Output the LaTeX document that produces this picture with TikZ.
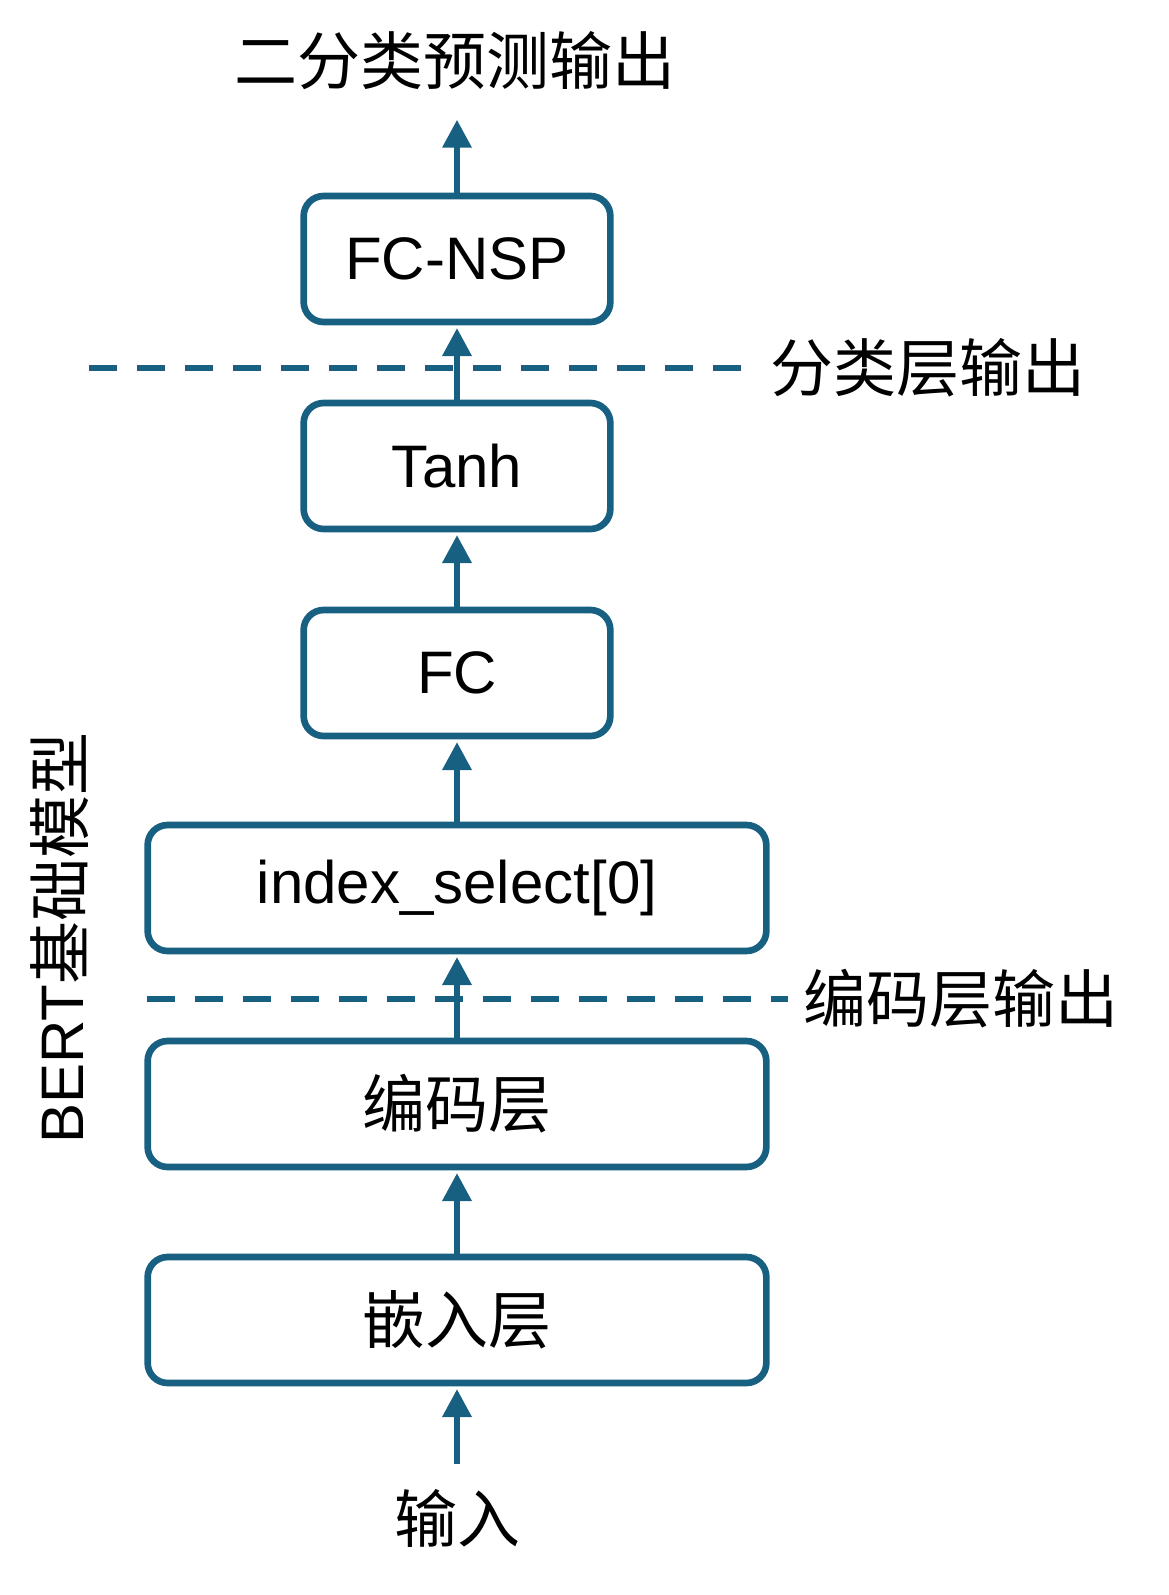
\documentclass[tikz,border=0pt]{standalone}
\usepackage{fontspec}
\setmainfont{Liberation Sans}
\newfontfamily\cjk[Scale=1.05]{Noto Sans CJK SC}
\usetikzlibrary{arrows.meta}
\definecolor{bertblue}{RGB}{24,96,130}

\begin{document}
\begin{tikzpicture}[x=0.75pt,y=-0.75pt,
   layer/.style={draw=bertblue,line width=5pt,rounded corners=15pt,fill=white,
      minimum width=230pt,minimum height=94.5pt,inner sep=0pt,
      font=\fontsize{45pt}{54pt}\selectfont},
   widelayer/.style={layer,minimum width=464pt},
   flow/.style={draw=bertblue,line width=4.8pt,shorten >=2pt,
      -{Triangle[length=21pt,width=21pt]}},
   cut/.style={draw=bertblue,line width=5pt,dash pattern=on 21pt off 15pt},
   lbl/.style={inner sep=0pt,font=\fontsize{45pt}{54pt}\selectfont}]
   \useasboundingbox (0,0) rectangle (1168,1595);

   % output lines
   \draw[cut] (89,368) -- (742,368);
   \draw[cut] (147,999) -- (788,999);

   % layers
   \node[layer] (nsp) at (457,259) {FC-NSP};
   \node[layer] (tanh) at (457,466) {Tanh};
   \node[layer] (fc) at (457,673) {FC};
   \node[widelayer] (select) at (457,888) {index\_select[0]};
   \node[widelayer] (enc) at (457,1104) {\cjk 编码层};
   \node[widelayer] (emb) at (457,1320) {\cjk 嵌入层};

   % texts
   \node[lbl] (pred) at (455,61) {\cjk 二分类预测输出};
   \node[lbl] (input) at (457,1518) {\cjk 输入};
   \node[lbl,anchor=west] (clsout) at (770,368) {\cjk 分类层输出};
   \node[lbl,anchor=west] (encout) at (803,999) {\cjk 编码层输出};
   \node[lbl,rotate=90] (bert) at (60,938) {BERT{\cjk 基础模型}};

   \coordinate (top) at (457,117);
   \coordinate (bottom) at (457,1464);

   % arrows
   \draw[flow] (bottom) -- (emb);
   \draw[flow] (emb) -- (enc);
   \draw[flow] (enc) -- (select);
   \draw[flow] (select) -- (fc);
   \draw[flow] (fc) -- (tanh);
   \draw[flow] (tanh) -- (nsp);
   \draw[flow] (nsp) -- (top);
\end{tikzpicture}
\end{document}
